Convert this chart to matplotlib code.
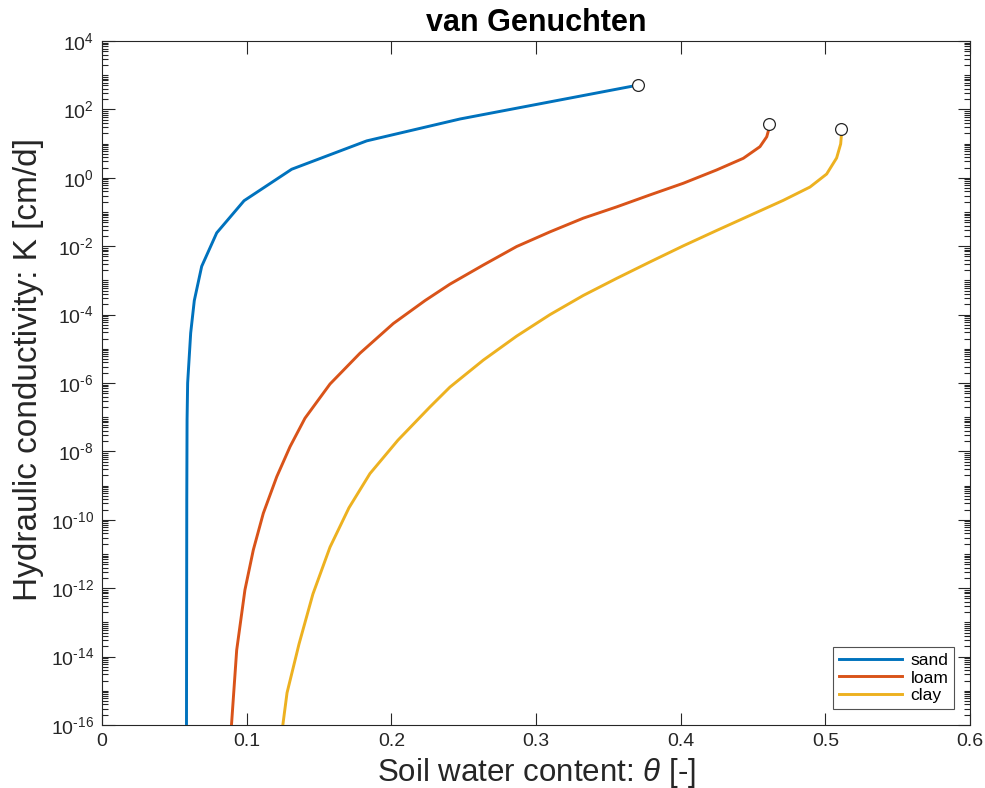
import numpy as np
import matplotlib
matplotlib.use("Agg")
import matplotlib.pyplot as plt
from matplotlib.ticker import FixedLocator, FuncFormatter, NullFormatter

plt.rcParams['font.family'] = ['Liberation Sans', 'DejaVu Sans']
plt.rcParams['mathtext.fontset'] = 'custom'
plt.rcParams['mathtext.rm'] = 'Liberation Sans'
plt.rcParams['mathtext.it'] = 'Liberation Sans:italic'
plt.rcParams['mathtext.bf'] = 'Liberation Sans:bold'

# ---- data ----
sand_theta = [0.0584, 0.0586, 0.0588, 0.0592, 0.0613, 0.0638, 0.0689, 0.0793,
              0.0982, 0.1311, 0.1830, 0.2475, 0.3705]
sand_log10K = [-16.0, -9.42, -7.08, -6.00, -4.54, -3.59, -2.59, -1.61,
               -0.67, 0.25, 1.08, 1.72, 2.71]

loam_theta = [0.0895, 0.0931, 0.0988, 0.1046, 0.1115, 0.1208, 0.1300, 0.1403,
              0.1576, 0.1783, 0.2014, 0.2233, 0.2405, 0.2636, 0.2866, 0.3097,
              0.3327, 0.3558, 0.3788, 0.4018, 0.4249, 0.4433, 0.4548, 0.4595,
              0.4608, 0.4608]
loam_log10K = [-16.0, -13.81, -12.05, -10.88, -9.81, -8.74, -7.86, -7.03,
               -6.03, -5.13, -4.26, -3.59, -3.11, -2.55, -2.01, -1.58,
               -1.18, -0.85, -0.50, -0.16, 0.23, 0.57, 0.91, 1.20,
               1.40, 1.58]

clay_theta = [0.1250, 0.1279, 0.1362, 0.1458, 0.1576, 0.1707, 0.1852, 0.2046,
              0.2267, 0.2405, 0.2636, 0.2866, 0.3097, 0.3327, 0.3558, 0.3788,
              0.4018, 0.4249, 0.4479, 0.4709, 0.4894, 0.5009, 0.5078, 0.5106,
              0.5110, 0.5110]
clay_log10K = [-16.0, -15.06, -13.63, -12.17, -10.80, -9.65, -8.65, -7.67,
               -6.70, -6.12, -5.33, -4.63, -4.00, -3.44, -2.94, -2.46,
               -1.99, -1.54, -1.10, -0.66, -0.27, 0.11, 0.58, 0.99,
               1.19, 1.42]

series_names = ['sand', 'loam', 'clay']
series_colors = ['#0072BD', '#D95319', '#EDB120']
x_ticks = [0, 0.1, 0.2, 0.3, 0.4, 0.5, 0.6]
x_ticklabels = ['0', '0.1', '0.2', '0.3', '0.4', '0.5', '0.6']
y_major_exp = list(range(-16, 5, 2))

AX = '#262626'

fig = plt.figure(figsize=(9.85, 7.88), dpi=100)
ax = fig.add_axes([102/985, 1-725/788, (970-102)/985, (725-41)/788])

thetas = [sand_theta, loam_theta, clay_theta]
logs = [sand_log10K, loam_log10K, clay_log10K]
for th, lk, name, col in zip(thetas, logs, series_names, series_colors):
    K = 10.0 ** np.array(lk)
    ax.plot(th, K, color=col, lw=2.1, label=name, solid_joinstyle='round', zorder=3)
for th, lk in zip(thetas, logs):
    ax.plot([th[-1]], [10.0 ** lk[-1]], 'o', ms=8.5, mfc='white', mec=AX,
            mew=0.9, zorder=4)

ax.set_yscale('log')
ax.set_xlim(0, 0.6)
ax.set_ylim(1e-16, 1e4)


def fmt_pow(v, p):
    e = int(round(np.log10(v)))
    return r'$10^{\text{%d}}$' % e


ax.xaxis.set_major_locator(FixedLocator(x_ticks))
ax.set_xticklabels(x_ticklabels)
ax.yaxis.set_major_locator(FixedLocator([10.0 ** e for e in y_major_exp]))
ax.yaxis.set_major_formatter(FuncFormatter(fmt_pow))
minor = []
for e in range(-16, 4):
    for j in range(1, 10):
        if j == 1 and e % 2 == 0:
            continue
        minor.append(j * 10.0 ** e)
ax.yaxis.set_minor_locator(FixedLocator(minor))
ax.yaxis.set_minor_formatter(NullFormatter())

ax.tick_params(which='both', direction='in', top=True, right=True, color=AX,
               labelcolor=AX, width=0.8)
ax.tick_params(which='major', length=9, labelsize=14, pad=6)
ax.tick_params(which='minor', length=4.5)
for s in ax.spines.values():
    s.set_color(AX)
    s.set_linewidth(0.8)

ax.set_title('van Genuchten', fontsize=22, fontweight='bold', color='black', pad=7)
ax.set_xlabel(r'Soil water content: $\theta$ [-]', fontsize=22.5, color=AX, labelpad=4)
ax.set_ylabel('Hydraulic conductivity: K [cm/d]', fontsize=24, color=AX, labelpad=4)
ax.yaxis.set_label_coords(-0.067, 0.52)

leg = ax.legend(loc='lower right', fontsize=12.5, frameon=True, fancybox=False,
                edgecolor=AX, handlelength=3.6, handletextpad=0.5,
                borderaxespad=0.9, labelspacing=0.15, borderpad=0.35)
leg.get_frame().set_linewidth(0.8)

fig.savefig('out.png', dpi=100)
